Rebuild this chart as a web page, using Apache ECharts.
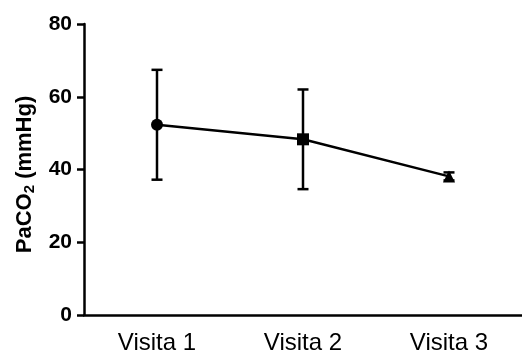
<!DOCTYPE html>
<html><head><meta charset="utf-8">
<script src="https://cdn.jsdelivr.net/npm/echarts@6/dist/echarts.min.js"></script>
<style>html,body{margin:0;padding:0;background:#fff}#c{width:522px;height:355px}</style>
</head><body><div id="c"></div>
<script>
const categories = ['Visita 1', 'Visita 2', 'Visita 3'];
const means = [52.3, 48.3, 38.1];
const lower = [37.2, 34.6, 37.0];
const upper = [67.4, 62.0, 39.2];
const symbols = ['circle', 'rect', 'triangle'];
const yTicks = [0, 20, 40, 60, 80];

const chart = echarts.init(document.getElementById('c'));
const font = 'Liberation Sans, Arial, sans-serif';
chart.setOption({
  animation: false,
  grid: { left: 84, right: 0, top: 24, bottom: 40, containLabel: false },
  xAxis: {
    type: 'category', data: categories, boundaryGap: true,
    axisLine: { lineStyle: { color: '#000', width: 2.5 } },
    axisTick: { alignWithLabel: true, length: 7, lineStyle: { color: '#000', width: 2.5 } },
    axisLabel: { color: '#000', fontSize: 24, fontFamily: font, margin: 16 }
  },
  yAxis: {
    type: 'value', min: yTicks[0], max: yTicks[yTicks.length - 1], interval: 20,
    splitLine: { show: false },
    axisLine: { show: true, lineStyle: { color: '#000', width: 2.5 } },
    axisTick: { show: true, length: 7, lineStyle: { color: '#000', width: 2.5 } },
    axisLabel: { color: '#000', fontSize: 21, fontWeight: 'bold', fontFamily: font, margin: 12 },
    name: 'PaCO{sub|2} (mmHg)', nameLocation: 'middle', nameGap: 47,
    nameTextStyle: {
      color: '#000', fontSize: 22, fontWeight: 'bold', fontFamily: font,
      padding: [0, 10, 0, 0],
      rich: { sub: { fontSize: 15, fontWeight: 'bold', fontFamily: font, color: '#000', verticalAlign: 'bottom', padding: [10, 0, 0, 0] } }
    }
  },
  series: [
    {
      type: 'custom',
      renderItem: function (params, api) {
        const x = api.value(0);
        const lo = api.coord([x, api.value(1)]);
        const hi = api.coord([x, api.value(2)]);
        const w = 5.5;
        const st = { stroke: '#000', lineWidth: 2.5 };
        return { type: 'group', children: [
          { type: 'line', shape: { x1: lo[0], y1: lo[1], x2: hi[0], y2: hi[1] }, style: st },
          { type: 'line', shape: { x1: lo[0] - w, y1: lo[1], x2: lo[0] + w, y2: lo[1] }, style: st },
          { type: 'line', shape: { x1: hi[0] - w, y1: hi[1], x2: hi[0] + w, y2: hi[1] }, style: st }
        ]};
      },
      data: categories.map((c, i) => [i, lower[i], upper[i]]),
      z: 1
    },
    {
      type: 'line',
      data: means.map((v, i) => ({ value: v, symbol: symbols[i] })),
      symbolSize: 12,
      lineStyle: { color: '#000', width: 2.5 },
      itemStyle: { color: '#000' },
      z: 2
    }
  ]
});
</script></body></html>
